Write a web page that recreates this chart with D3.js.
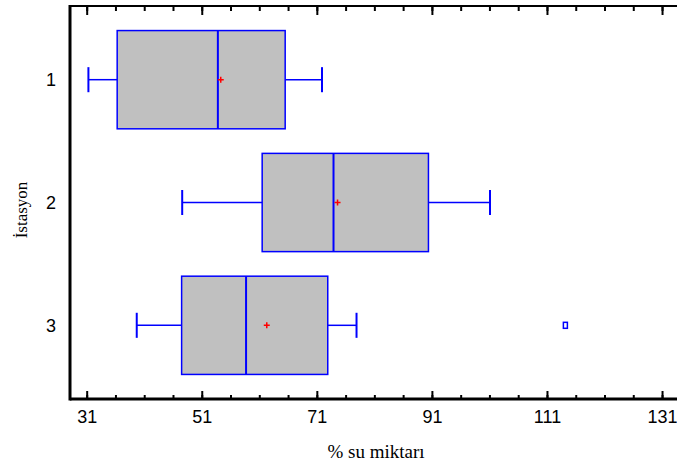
<!DOCTYPE html>
<html>
<head>
<meta charset="utf-8">
<script src="https://cdn.jsdelivr.net/npm/d3@7"></script>
<style>
  body { margin: 0; background: #fff; }
  svg { display: block; }
</style>
</head>
<body>
<div id="chart"></div>
<script>
'use strict';

// Data
const stations = ['1', '2', '3'];
const whiskerLow = [31.3, 47.6, 39.7];
const q1 = [36.3, 61.5, 47.5];
const medians = [53.8, 73.9, 58.7];
const q3 = [65.5, 90.4, 72.9];
const whiskerHigh = [71.9, 101.1, 77.9];
const means = [54.3, 74.6, 62.3];
const outliers = [[3, 114.2]]; // [station, value]
const xTicks = [31, 51, 71, 91, 111, 131];

const width = 677, height = 469;
const plotLeft = 70, plotRight = 676, plotTop = 6, plotBottom = 399;

const svg = d3.select('#chart').append('svg')
    .attr('width', width).attr('height', height);

const x = d3.scaleLinear().domain([28.1, 133.6]).range([plotLeft, plotRight + 1]);
const y = d3.scaleLinear().domain([0.4, 3.6]).range([plotTop, plotBottom]);

const boxes = stations.map((s, i) => ({
    station: +s, lo: whiskerLow[i], q1: q1[i], med: medians[i],
    q3: q3[i], hi: whiskerHigh[i], mean: means[i]
}));

// Axes frame (bottom + top with inward ticks, left line)
const minorTicks = d3.range(31, 134, 5);
svg.append('g').attr('transform', `translate(0,${plotBottom})`)
    .call(d3.axisBottom(x).tickValues(minorTicks).tickSize(-4).tickFormat(''))
    .call(g => g.select('.domain').remove())
    .call(g => g.selectAll('line').attr('stroke', '#000').attr('stroke-width', 2));
svg.append('g').attr('transform', `translate(0,${plotBottom})`)
    .call(d3.axisBottom(x).tickValues(xTicks).tickSize(-8).tickPadding(11).tickFormat(d3.format('d')))
    .call(g => g.select('.domain').remove())
    .call(g => g.selectAll('line').attr('stroke', '#000').attr('stroke-width', 2))
    .call(g => g.selectAll('text').attr('font-family', 'Liberation Sans, Arial, sans-serif')
        .attr('font-size', 18).attr('fill', '#000'));

svg.append('g').attr('transform', `translate(0,${plotTop})`)
    .call(d3.axisTop(x).tickValues(minorTicks).tickSize(-5).tickFormat(''))
    .call(g => g.select('.domain').remove())
    .call(g => g.selectAll('line').attr('stroke', '#000').attr('stroke-width', 2));
svg.append('g').attr('transform', `translate(0,${plotTop})`)
    .call(d3.axisTop(x).tickValues(xTicks).tickSize(-9).tickFormat(''))
    .call(g => g.select('.domain').remove())
    .call(g => g.selectAll('line').attr('stroke', '#000').attr('stroke-width', 2));

svg.append('line').attr('x1', plotLeft).attr('x2', width).attr('y1', plotTop).attr('y2', plotTop)
    .attr('stroke', '#000').attr('stroke-width', 2);
svg.append('line').attr('x1', plotLeft).attr('x2', width).attr('y1', plotBottom).attr('y2', plotBottom)
    .attr('stroke', '#000').attr('stroke-width', 3);
svg.append('line').attr('x1', plotLeft).attr('x2', plotLeft).attr('y1', plotTop - 1).attr('y2', plotBottom + 1.5)
    .attr('stroke', '#000').attr('stroke-width', 3);

// Y category labels
svg.append('g').selectAll('text')
    .data(stations)
    .join('text')
    .attr('x', 51).attr('y', d => y(+d)).attr('dy', '0.36em')
    .attr('text-anchor', 'middle')
    .attr('font-family', 'Liberation Sans, Arial, sans-serif')
    .attr('font-size', 18)
    .text(d => d);

// Titles
svg.append('text')
    .attr('x', 376).attr('y', 458)
    .attr('text-anchor', 'middle')
    .attr('font-family', 'Liberation Serif, Times New Roman, serif')
    .attr('font-size', 19)
    .text('% su miktarı');
svg.append('text')
    .attr('transform', `translate(27,210) rotate(-90)`)
    .attr('text-anchor', 'middle')
    .attr('font-family', 'Liberation Serif, Times New Roman, serif')
    .attr('font-size', 17)
    .text('İstasyon');

// Box plots
const boxH = y(1.8) - y(1.0);
const capH = y(1.1) - y(1.0);
const blue = '#0000ff';

const g = svg.append('g').selectAll('g.box')
    .data(boxes)
    .join('g')
    .classed('box', true);

g.append('line')
    .attr('x1', d => x(d.lo)).attr('x2', d => x(d.q1))
    .attr('y1', d => y(d.station)).attr('y2', d => y(d.station))
    .attr('stroke', blue).attr('stroke-width', 1.5);
g.append('line')
    .attr('x1', d => x(d.q3)).attr('x2', d => x(d.hi))
    .attr('y1', d => y(d.station)).attr('y2', d => y(d.station))
    .attr('stroke', blue).attr('stroke-width', 1.5);
g.append('line')
    .attr('x1', d => x(d.lo)).attr('x2', d => x(d.lo))
    .attr('y1', d => y(d.station) - capH * 1.02).attr('y2', d => y(d.station) + capH * 1.02)
    .attr('stroke', blue).attr('stroke-width', 2);
g.append('line')
    .attr('x1', d => x(d.hi)).attr('x2', d => x(d.hi))
    .attr('y1', d => y(d.station) - capH * 1.02).attr('y2', d => y(d.station) + capH * 1.02)
    .attr('stroke', blue).attr('stroke-width', 2);

g.append('rect')
    .attr('x', d => x(d.q1)).attr('width', d => x(d.q3) - x(d.q1))
    .attr('y', d => y(d.station) - boxH / 2).attr('height', boxH)
    .attr('fill', '#c0c0c0').attr('stroke', blue).attr('stroke-width', 1.5);
g.append('line')
    .attr('x1', d => x(d.med)).attr('x2', d => x(d.med))
    .attr('y1', d => y(d.station) - boxH / 2).attr('y2', d => y(d.station) + boxH / 2)
    .attr('stroke', blue).attr('stroke-width', 2);

// Mean markers (red plus)
g.append('path')
    .attr('d', d => {
        const cx = x(d.mean), cy = y(d.station);
        return `M${cx - 3},${cy}H${cx + 3}M${cx},${cy - 3}V${cy + 3}`;
    })
    .attr('stroke', '#ff0000').attr('stroke-width', 1.5).attr('fill', 'none');

// Outliers
svg.append('g').selectAll('rect')
    .data(outliers)
    .join('rect')
    .attr('x', d => x(d[1]) - 2).attr('y', d => y(d[0]) - 3)
    .attr('width', 4).attr('height', 6)
    .attr('fill', 'none').attr('stroke', blue).attr('stroke-width', 1.5);
</script>
</body>
</html>
